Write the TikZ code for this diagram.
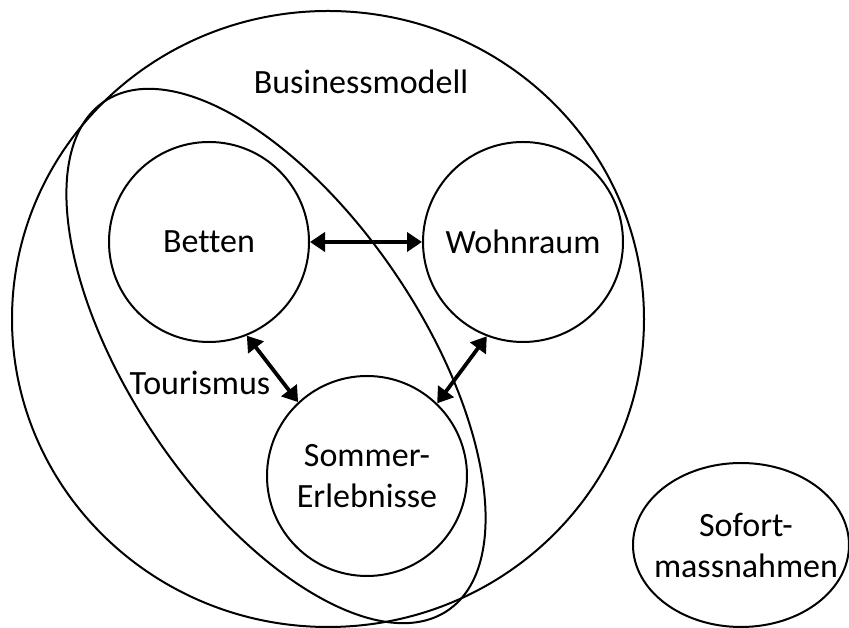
\documentclass[tikz,border=0pt]{standalone}
\usepackage{fontspec}
\setmainfont{Carlito}[Ligatures=NoCommon]
\usetikzlibrary{arrows.meta,shapes.geometric}
\begin{document}
\begin{tikzpicture}[x=1pt,y=1pt,
  outline/.style={draw=black,line width=2pt},
  bubble/.style={outline,circle,minimum size=200pt,inner sep=0pt,align=center,font=\fontsize{34}{41}\selectfont},
  label/.style={font=\fontsize{34}{41}\selectfont,inner sep=0pt,align=center},
  link/.style={line width=3.8pt,{Triangle[length=15pt,width=19pt]}-{Triangle[length=15pt,width=19pt]},shorten <=0pt,shorten >=0pt}]
\useasboundingbox (0,0) rectangle (849,628);
% big circle Businessmodell
\draw[outline] (328,309) ellipse [x radius=316, y radius=308];
% Tourismus ellipse
\draw[outline,rotate around={-56:(276,272)}] (276,272) ellipse [x radius=307, y radius=145];
% nodes
\node[bubble] (betten) at (209,386) {Betten};
\node[bubble] (wohn) at (523,386) {Wohnraum};
\node[bubble] (sommer) at (367,152) {Sommer-\\Erlebnisse};
\node[outline,ellipse,minimum width=216pt,minimum height=164pt,inner sep=0pt] (sofort) at (741,83) {};
\node[label] (sofortlbl) at (746,83) {Sofort-\\massnahmen};
\node[label] (biz) at (361,546) {Businessmodell};
\node[label] (tour) at (200,245) {Tourismus};
% connectors
\draw[link] (betten.east) -- (wohn.west);
\draw[link] (betten.-68) -- (sommer.133);
\draw[link] (wohn.-111) -- (sommer.46);
\end{tikzpicture}
\end{document}
